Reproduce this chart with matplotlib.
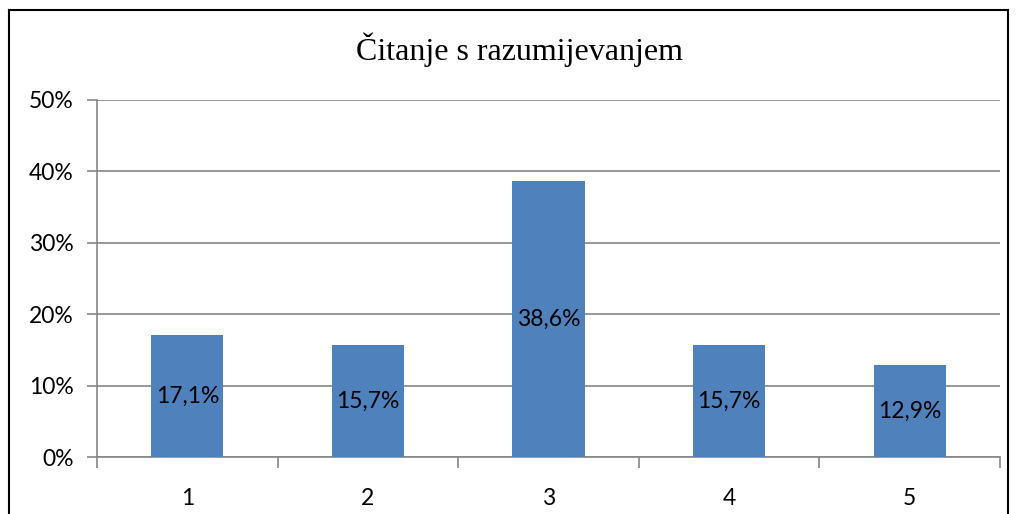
import matplotlib
matplotlib.use("Agg")
import matplotlib.pyplot as plt
from matplotlib.lines import Line2D

categories = ["1", "2", "3", "4", "5"]
values = [17.1, 15.7, 38.6, 15.7, 12.9]
labels = ["17,1%", "15,7%", "38,6%", "15,7%", "12,9%"]
yticks = [0, 10, 20, 30, 40, 50]
ytick_labels = ["0%", "10%", "20%", "30%", "40%", "50%"]
title = "Čitanje s razumijevanjem"

W, H = 1018, 514
fig = plt.figure(figsize=(W / 100, H / 100), dpi=100)
ax = fig.add_axes([97 / W, 1 - 457 / H, (1000 - 97) / W, (457 - 100) / H])

grid_c = "#868686"
bar_c = "#4F81BD"
font = ["Lato", "DejaVu Sans"]
fs = 16.5

x = list(range(len(categories)))
ax.bar(x, values, width=0.4, color=bar_c, zorder=3)
ax.set_xlim(-0.5, len(categories) - 0.5)
ax.set_ylim(0, 50)

for xi, v, lab in zip(x, values, labels):
    ax.text(xi, v / 2, lab, ha="center", va="center", fontsize=fs,
            family=font, color="black", zorder=4)

ax.set_yticks(yticks)
ax.set_yticklabels(ytick_labels, family=font, fontsize=fs)
ax.set_xticks([i - 0.5 for i in range(len(categories) + 1)])
ax.set_xticklabels([])
ax.set_xticks(x, minor=True)
ax.set_xticklabels(categories, minor=True, family=font, fontsize=fs)
ax.tick_params(axis="x", which="minor", length=0, pad=22)
ax.tick_params(axis="x", which="major", length=8, color=grid_c, width=1.2)
ax.tick_params(axis="y", length=7, color=grid_c, width=1.2, pad=10)

ax.grid(axis="y", color=grid_c, linewidth=1.2, zorder=0)
for s in ["top", "right"]:
    ax.spines[s].set_visible(False)
ax.spines["left"].set_color(grid_c)
ax.spines["bottom"].set_color(grid_c)
ax.spines["left"].set_linewidth(1.2)
ax.spines["bottom"].set_linewidth(1.2)

fig.text(520 / W, 1 - 50 / H, title, ha="center", va="center",
         family=["Liberation Serif", "DejaVu Serif"], fontsize=23)

# outer border (bottom cut off)
l, r, t = 9 / W, 1008 / W, 1 - 10 / H
for xs, ys in [([l, l], [t, -0.01]), ([r, r], [t, -0.01]), ([l, r], [t, t])]:
    fig.add_artist(Line2D(xs, ys, color="black", linewidth=1.5, transform=fig.transFigure))

fig.savefig("out.png", dpi=100)
